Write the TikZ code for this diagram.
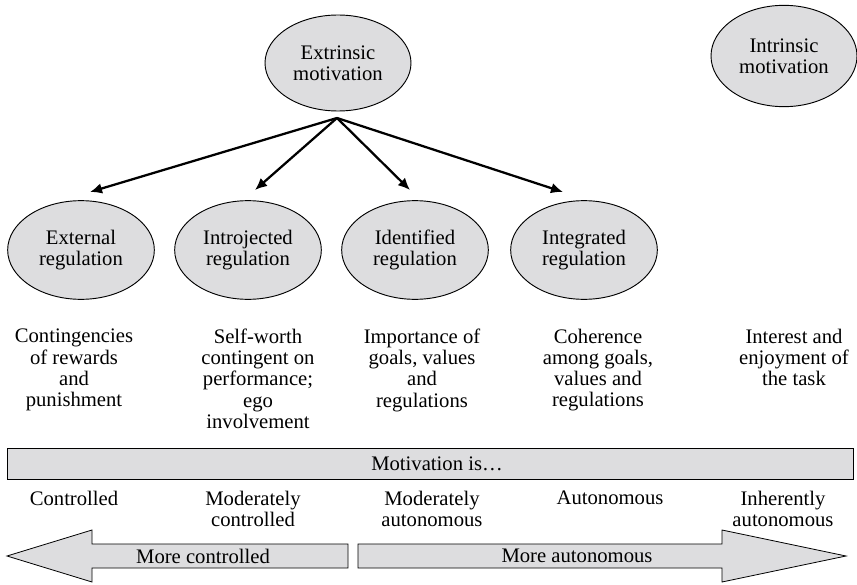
\documentclass[tikz,border=0pt]{standalone}
\usepackage{fontspec}
\setmainfont{Liberation Serif}
\usetikzlibrary{shapes.geometric,arrows.meta}
\definecolor{ovalfill}{RGB}{221,221,223}
\begin{document}
\begin{tikzpicture}[x=0.75pt,y=-0.75pt,
  every node/.style={font=\fontsize{15.5}{15.8}\selectfont, align=center, inner sep=0pt},
  oval/.style={ellipse, draw=black, line width=0.7pt, fill=ovalfill,
               minimum width=110pt, minimum height=74pt},
  flow/.style={line width=1.7pt, -{Latex[length=9pt,width=8pt]}},
  blockarrow/.style={draw=black, line width=0.6pt, fill=ovalfill},
  desc/.style={anchor=north},
  level/.style={anchor=north}]
\useasboundingbox (0,0) rectangle (857,585);

% top row
\node[oval, minimum width=109.5pt, minimum height=72pt] (extr) at (338,63) {Extrinsic\\motivation};
\node[oval, minimum width=109.5pt, minimum height=76pt] (intr) at (784,56) {Intrinsic\\motivation};

% regulation styles
\node[oval] (ext) at (81,250)  {External\\regulation};
\node[oval] (intro) at (248,250) {Introjected\\regulation};
\node[oval] (ident) at (415,250) {Identified\\regulation};
\node[oval] (integ) at (584,250) {Integrated\\regulation};

% fan of arrows from extrinsic motivation
\coordinate (hub) at (337,118);
\coordinate (t1) at (90,192);
\coordinate (t2) at (255,190);
\coordinate (t3) at (410,190);
\coordinate (t4) at (563,192);
\draw[flow] (hub) -- (t1);
\draw[flow] (hub) -- (t2);
\draw[flow] (hub) -- (t3);
\draw[flow] (hub) -- (t4);

% descriptions
\node[desc] (d1) at (74,329)  {Contingencies\\of rewards\\and\\punishment};
\node[desc] (d2) at (258,329) {Self-worth\\contingent on\\performance;\\ego\\involvement};
\node[desc] (d3) at (422,329) {Importance of\\goals, values\\and\\regulations};
\node[desc] (d4) at (598,329) {Coherence\\among goals,\\values and\\regulations};
\node[desc] (d5) at (794,329) {Interest and\\enjoyment of\\the task};

% bar
\draw[blockarrow] (7,448) rectangle (853,479);
\node (bar) at (437,463.5) {Motivation is\ldots};

% levels
\node[level] (l1) at (74,491)  {Controlled};
\node[level] (l2) at (253,491) {Moderately\\controlled};
\node[level] (l3) at (432,491) {Moderately\\autonomous};
\node[level] (l4) at (610,491) {Autonomous};
\node[level] (l5) at (783,491) {Inherently\\autonomous};

% block arrows
\draw[blockarrow] (348,544) -- (92,544) -- (92,530) -- (7,556) -- (92,582) -- (92,568) -- (348,568) -- cycle;
\draw[blockarrow] (358,544) -- (722,544) -- (722,530) -- (846,556) -- (722,582) -- (722,568) -- (358,568) -- cycle;
\node (mc) at (203,556) {More controlled};
\node (ma) at (577,556) {More autonomous};
\end{tikzpicture}
\end{document}
